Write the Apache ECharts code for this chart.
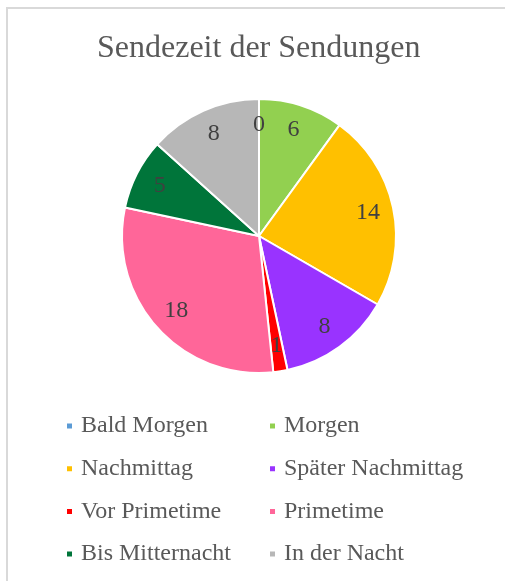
<!DOCTYPE html>
<html>
<head>
    <meta charset="utf-8">
    <title>Sendezeit der Sendungen</title>
    <script src="https://cdn.jsdelivr.net/npm/echarts@6/dist/echarts.min.js"></script>
    <style>
        html, body { margin: 0; padding: 0; background: #fff; }
        #frame { position: absolute; left: 6px; top: 7px; right: -2px; bottom: -2px;
                 border-left: 2px solid #d9d9d9; border-top: 2px solid #d9d9d9; }
        #main { position: absolute; left: 0; top: 0; width: 505px; height: 581px; }
    </style>
</head>
<body>
<div id="frame"></div>
<div id="main"></div>
<script type="text/javascript">
    // Kategorien und Werte
    var categories = ['Bald Morgen', 'Morgen', 'Nachmittag', 'Später Nachmittag',
                      'Vor Primetime', 'Primetime', 'Bis Mitternacht', 'In der Nacht'];
    var values = [0, 6, 14, 8, 1, 18, 5, 8];
    var colors = ['#5B9BD5', '#92D050', '#FFC000', '#9933FF',
                  '#FF0000', '#FF6699', '#00753A', '#B7B7B7'];

    var pieData = categories.map(function (name, i) {
        return { name: name, value: values[i], itemStyle: { color: colors[i] } };
    });

    var serif = '"Liberation Serif", "Times New Roman", serif';
    var legendText = { fontFamily: serif, fontSize: 24, color: '#595959', lineHeight: 26, padding: [0, 0, 0, 3] };

    var chart = echarts.init(document.getElementById('main'));
    chart.setOption({
        animation: false,
        title: {
            text: 'Sendezeit der Sendungen',
            left: 92,
            top: 28,
            textStyle: { fontFamily: serif, fontSize: 32, fontWeight: 'normal', color: '#595959' }
        },
        color: colors,
        legend: [{
            orient: 'vertical',
            left: 60,
            top: 408,
            icon: 'rect',
            itemWidth: 7,
            itemHeight: 7,
            itemGap: 16.7,
            textStyle: legendText,
            data: [categories[0], categories[2], categories[4], categories[6]]
        }, {
            orient: 'vertical',
            left: 263,
            top: 408,
            icon: 'rect',
            itemWidth: 7,
            itemHeight: 7,
            itemGap: 16.7,
            textStyle: legendText,
            data: [categories[1], categories[3], categories[5], categories[7]]
        }],
        series: [{
            type: 'pie',
            center: [259, 236],
            radius: 137,
            startAngle: 90,
            clockwise: true,
            avoidLabelOverlap: false,
            itemStyle: { borderColor: '#fff', borderWidth: 2 },
            label: { show: false },
            labelLine: { show: false },
            data: pieData
        }, {
            // unsichtbare Ringserie nur für die Beschriftungen weiter außen
            type: 'pie',
            center: [259, 236],
            radius: [80, 137],
            startAngle: 90,
            clockwise: true,
            silent: true,
            avoidLabelOverlap: false,
            itemStyle: { color: 'rgba(0,0,0,0)', borderWidth: 0 },
            label: {
                show: true,
                position: 'inside',
                formatter: '{c}',
                fontFamily: serif,
                fontSize: 24,
                color: '#404040'
            },
            labelLine: { show: false },
            emphasis: { disabled: true },
            data: categories.map(function (name, i) {
                return { name: name, value: values[i] };
            })
        }]
    });
</script>
</body>
</html>
